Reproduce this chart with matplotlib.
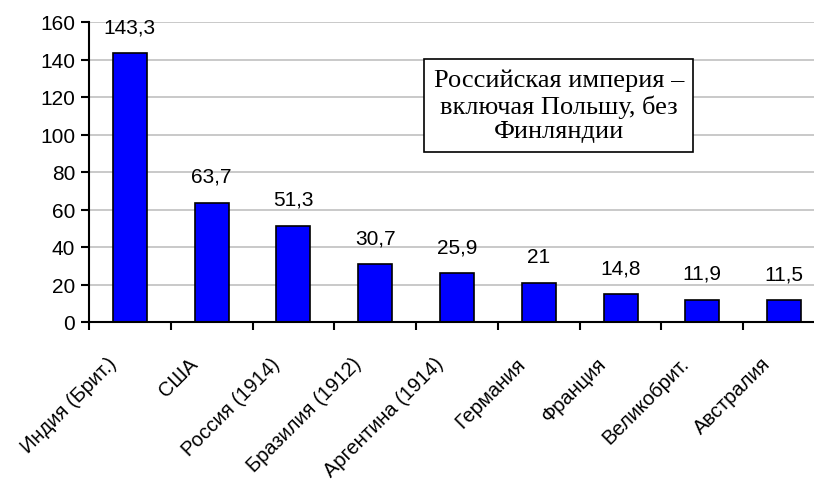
import matplotlib.pyplot as plt
import numpy as np
from matplotlib.ticker import FixedLocator, MultipleLocator

# Данные
countries = ['Индия (Брит.)', 'США', 'Россия (1914)', 'Бразилия (1912)',
             'Аргентина (1914)', 'Германия', 'Франция', 'Великобрит.', 'Австралия']
values = [143.3, 63.7, 51.3, 30.7, 25.9, 21, 14.8, 11.9, 11.5]
value_labels = ['143,3', '63,7', '51,3', '30,7', '25,9', '21', '14,8', '11,9', '11,5']
note = 'Российская империя –\nвключая Польшу, без\nФинляндии'

plt.rcParams['font.family'] = ['Liberation Sans', 'DejaVu Sans']

fig = plt.figure(figsize=(8.14, 4.85), dpi=100)
# область графика слегка выходит за правый край, как в оригинале
ax = fig.add_axes([89 / 814, (485 - 323) / 485, 736 / 814, 300 / 485])

x = np.arange(len(countries))
ax.bar(x, values, width=0.415, color='#0000ff', edgecolor='black', linewidth=1.2, zorder=3)

# подписи значений над столбцами
for xi, v, lab in zip(x, values, value_labels):
    ax.annotate(lab, (xi, v), textcoords='offset points', xytext=(0, 19),
                ha='center', va='center', fontsize=15)

ax.set_xlim(-0.5, len(countries) - 0.5)
ax.set_ylim(0, 160)
ax.yaxis.set_major_locator(MultipleLocator(20))
ax.grid(True, axis='y', color='#c0c0c0', linewidth=1.2, zorder=0)

# подписи категорий под углом 45°, конец текста чуть левее центра категории
ax.set_xticks(x)
ax.set_xticklabels([])
for xi, name in zip(x, countries):
    ax.annotate(name, (xi, 0), xycoords=('data', 'axes fraction'),
                textcoords='offset points', xytext=(-12, -27.5),
                rotation=45, ha='right', va='center', rotation_mode='anchor',
                fontsize=14.5, annotation_clip=False)
ax.xaxis.set_minor_locator(FixedLocator(np.arange(-0.5, len(countries), 1)))
ax.tick_params(axis='x', which='major', length=0)
ax.tick_params(axis='x', which='minor', length=6, width=1.5, direction='out')
ax.tick_params(axis='y', length=6, width=1.5, direction='out', labelsize=15, pad=4)

for s in ['top', 'right']:
    ax.spines[s].set_visible(False)
for s in ['left', 'bottom']:
    ax.spines[s].set_linewidth(1.5)
    ax.spines[s].set_zorder(4)

ax.text(5.246, 115.5, note, ha='center', va='center', fontsize=19,
        family='Liberation Serif', linespacing=1.17, zorder=5,
        bbox=dict(facecolor='white', edgecolor='black', linewidth=1.2,
                  boxstyle='square,pad=0.35'))

plt.savefig('out.png', dpi=100)
